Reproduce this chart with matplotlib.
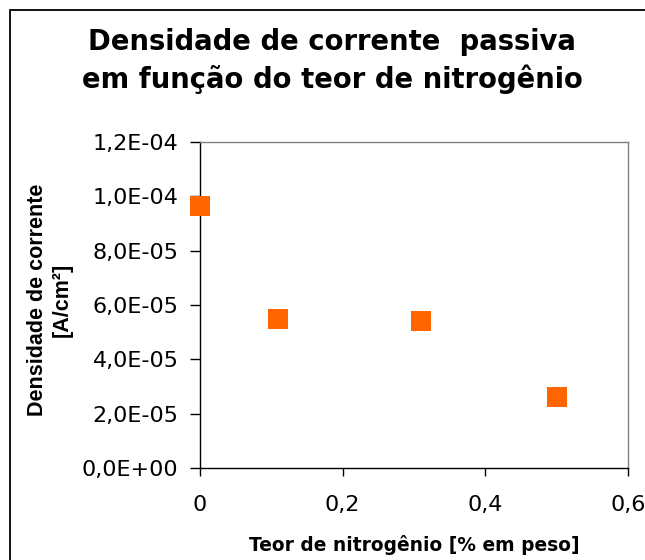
import matplotlib
matplotlib.use("Agg")
import matplotlib.pyplot as plt
from matplotlib.patches import Rectangle
from matplotlib.ticker import FixedLocator, FixedFormatter

# ---- data ----
nitrogen = [0.0, 0.11, 0.31, 0.50]
current_density = [9.65e-5, 5.50e-5, 5.40e-5, 2.62e-5]

x_ticks = [0.0, 0.2, 0.4, 0.6]
x_tick_labels = ["0", "0,2", "0,4", "0,6"]
y_ticks = [0.0, 2.0e-5, 4.0e-5, 6.0e-5, 8.0e-5, 1.0e-4, 1.2e-4]
y_tick_labels = ["0,0E+00", "2,0E-05", "4,0E-05", "6,0E-05", "8,0E-05", "1,0E-04", "1,2E-04"]

title_lines = ["Densidade de corrente  passiva", "em função do teor de nitrogênio"]
x_label = "Teor de nitrogênio [% em peso]"
y_label = "Densidade de corrente\n[A/cm²]"

plt.rcParams['font.family'] = ['DejaVu Sans']

W, H = 645, 560
fig = plt.figure(figsize=(W / 100, H / 100), dpi=100)
fig.patch.set_facecolor("white")

# chart-area frame (extends past the right and bottom edge of the picture)
fig.add_artist(Rectangle((10 / W, -0.1), 1.2, 1.1 - 10 / H, transform=fig.transFigure,
                         fill=False, edgecolor="black", linewidth=1.3, clip_on=False))

ax = fig.add_axes([200 / W, 1 - 468 / H, 428 / W, 326 / H])
ax.plot(nitrogen, current_density, linestyle="none", marker="s", markersize=13.7,
        markerfacecolor="#FF6600", markeredgewidth=0, clip_on=False, zorder=5)

ax.set_xlim(0, 0.6)
ax.set_ylim(0, 1.2e-4)
ax.xaxis.set_major_locator(FixedLocator(x_ticks))
ax.xaxis.set_major_formatter(FixedFormatter(x_tick_labels))
ax.yaxis.set_major_locator(FixedLocator(y_ticks))
ax.yaxis.set_major_formatter(FixedFormatter(y_tick_labels))

for side in ["left", "bottom"]:
    ax.spines[side].set_color("black")
    ax.spines[side].set_linewidth(1.0)
for side in ["top", "right"]:
    ax.spines[side].set_color("#808080")
    ax.spines[side].set_linewidth(1.0)

ax.tick_params(axis="x", direction="out", length=6, width=1.0, pad=13.5, labelsize=16, colors="black")
ax.tick_params(axis="y", direction="out", length=7, width=1.0, pad=8.5, labelsize=16, colors="black")

# titles and labels
fig.text(332 / W, 1 - 50 / H, title_lines[0], ha="center", va="baseline",
         fontsize=19.8, fontweight="bold")
fig.text(332 / W, 1 - 88 / H, title_lines[1], ha="center", va="baseline",
         fontsize=19.8, fontweight="bold")
fig.text(414 / W, 1 - 545 / H, x_label, ha="center", va="center",
         fontsize=13.4, fontweight="bold")
fig.text(50 / W, 1 - 300 / H, y_label, ha="center", va="center", rotation=90,
         fontsize=15.5, fontweight="bold", multialignment="center", linespacing=1.2,
         family=["Liberation Sans", "DejaVu Sans"])

fig.savefig("out.png", dpi=100, facecolor="white")
